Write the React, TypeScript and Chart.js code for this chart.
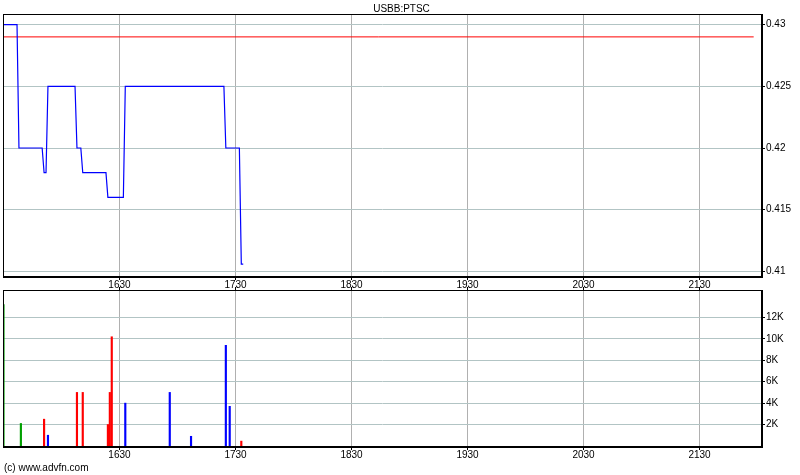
import React, { useEffect, useRef } from 'react';
import { Chart, registerables } from 'chart.js';

Chart.register(...registerables);

// ---------- data ----------
const TITLE = 'USBB:PTSC';
const COPYRIGHT = '(c) www.advfn.com';

// trade times (HHMM) and prices
const priceTimes = [1530, 1537, 1538, 1550, 1551, 1552, 1553, 1607, 1608, 1610, 1611, 1623, 1624, 1632, 1633, 1724, 1725, 1732, 1733, 1734];
const priceValues = [0.43, 0.43, 0.42, 0.42, 0.418, 0.418, 0.425, 0.425, 0.42, 0.42, 0.418, 0.418, 0.416, 0.416, 0.425, 0.425, 0.42, 0.42, 0.4106, 0.4106];

// previous close reference line
const prevClose = 0.429;

// volume bars
const volTimes = [1530, 1539, 1551, 1553, 1608, 1611, 1624, 1625, 1626, 1633, 1656, 1707, 1725, 1727, 1733];
const volValues = [13200, 2100, 2500, 1000, 5000, 5000, 2000, 5000, 10200, 4000, 5000, 900, 9400, 3700, 450];
const volDirs = ['n', 'n', 'd', 'u', 'd', 'd', 'd', 'd', 'd', 'u', 'u', 'u', 'u', 'u', 'd'];

// axis ticks
const timeTicks = [1630, 1730, 1830, 1930, 2030, 2130];
const sessionEnd = 2158;
const priceTicks = [0.41, 0.4125, 0.415, 0.4175, 0.42, 0.4225, 0.425, 0.4275, 0.43];
const priceLabelTicks = [0.41, 0.415, 0.42, 0.425, 0.43];
const volTicks = [0, 1000, 2000, 3000, 4000, 5000, 6000, 7000, 8000, 9000, 10000, 11000, 12000, 13000, 14000];
const volLabelTicks = [2000, 4000, 6000, 8000, 10000, 12000];

// ---------- helpers / styles ----------
const toMin = (t: number) => Math.floor(t / 100) * 60 + (t % 100);
const X_MIN = 929.75;
const X_MAX = 1322.3;
const P_MIN = 0.409553;
const P_MAX = 0.430854;
const V_MIN = -100;
const V_MAX = 14570;

const FONT = { family: '"Liberation Sans", Arial, sans-serif', size: 10 };
const H_GRID = 'rgb(178,196,196)';
const V_GRID = 'rgb(176,176,176)';
const dirColor: Record<string, string> = { n: '#00a000', d: '#ff0000', u: '#0000ff' };

const framePlugin = {
  id: 'frame',
  afterDraw(chart: any) {
    const { ctx, chartArea: a } = chart;
    ctx.save();
    ctx.strokeStyle = '#000';
    ctx.lineWidth = 1;
    ctx.strokeRect(Math.round(a.left) + 0.5, Math.round(a.top) + 0.5, Math.round(a.right - a.left) - 1, Math.round(a.bottom - a.top) - 1);
    ctx.restore();
  },
};

const near = (a: number, b: number) => Math.abs(a - b) < 1e-7;

function timeAxis(position: 'top' | 'bottom', showLabels: boolean, height: number, pad: number, onArea: boolean) {
  const tickMins = [...timeTicks.map(toMin), toMin(sessionEnd)];
  return {
    type: 'linear',
    position,
    min: X_MIN,
    max: X_MAX,
    offset: false,
    afterBuildTicks: (s: any) => {
      s.ticks = [{ value: X_MIN }, ...tickMins.map((v) => ({ value: v })), { value: X_MAX }];
    },
    afterFit: (s: any) => {
      s.height = height;
    },
    ticks: {
      display: showLabels,
      autoSkip: false,
      maxRotation: 0,
      padding: pad,
      font: FONT,
      color: '#000',
      callback: (v: number) => {
        const t = timeTicks.find((tt) => toMin(tt) === v);
        return t !== undefined ? String(t) : null;
      },
    },
    grid: {
      offset: false,
      drawOnChartArea: onArea,
      color: (c: any) => (c.tick && (c.tick.value === X_MIN || c.tick.value === X_MAX) ? 'rgba(0,0,0,0)' : V_GRID),
      tickColor: (c: any) => (c.tick && (c.tick.value === X_MIN || c.tick.value === X_MAX) ? 'rgba(0,0,0,0)' : '#000'),
      tickLength: 3,
    },
    border: { color: '#000', width: 1 },
  };
}

function PriceChart() {
  const ref = useRef<HTMLCanvasElement>(null);
  useEffect(() => {
    if (!ref.current) return;
    const chart = new Chart(ref.current, {
      type: 'line',
      data: {
        datasets: [
          {
            data: priceTimes.map((t, i) => ({ x: toMin(t), y: priceValues[i] })),
            borderColor: '#0000ff',
            borderWidth: 1.2,
            pointRadius: 0,
            tension: 0,
          },
          {
            data: [
              { x: toMin(priceTimes[0]), y: prevClose },
              { x: toMin(sessionEnd), y: prevClose },
            ],
            borderColor: '#ff0000',
            borderWidth: 1,
            pointRadius: 0,
          },
        ],
      },
      options: {
        animation: false,
        responsive: false,
        events: [],
        layout: { padding: { left: 3, right: 0, top: 0, bottom: 0 } },
        plugins: {
          legend: { display: false },
          tooltip: { enabled: false },
          title: {
            display: true,
            text: TITLE,
            color: '#000',
            font: { ...FONT, size: 10, weight: 'normal' },
            padding: { top: 3, bottom: -1 },
          },
        },
        scales: {
          x: timeAxis('bottom', false, 4, 0, true) as any,
          y: {
            type: 'linear',
            position: 'right',
            min: P_MIN,
            max: P_MAX,
            afterBuildTicks: (s: any) => {
              s.ticks = [{ value: P_MIN }, ...priceTicks.map((v) => ({ value: v })), { value: P_MAX }];
            },
            afterFit: (s: any) => {
              s.width = 38;
            },
            ticks: {
              autoSkip: false,
              padding: 1,
              font: FONT,
              color: '#000',
              callback: (v: number) => (priceLabelTicks.some((p) => near(p, v)) ? String(v) : null),
            },
            grid: {
              color: (c: any) => (c.tick && priceLabelTicks.some((p) => near(p, c.tick.value)) ? H_GRID : 'rgba(0,0,0,0)'),
              tickColor: (c: any) => (c.tick && priceTicks.some((p) => near(p, c.tick.value)) ? '#000' : 'rgba(0,0,0,0)'),
              tickLength: 3,
            },
            border: { color: '#000', width: 1 },
          },
        },
      },
      plugins: [framePlugin],
    } as any);
    return () => chart.destroy();
  }, []);
  return <canvas ref={ref} width={800} height={284} style={{ position: 'absolute', left: 0, top: 0 }} />;
}

function VolumeChart() {
  const ref = useRef<HTMLCanvasElement>(null);
  useEffect(() => {
    if (!ref.current) return;
    const chart = new Chart(ref.current, {
      type: 'bar',
      data: {
        datasets: [
          {
            data: volTimes.map((t, i) => ({ x: toMin(t), y: volValues[i] })),
            backgroundColor: volDirs.map((d) => dirColor[d]),
            borderWidth: 0,
            barThickness: 1.5,
            xAxisID: 'x',
            yAxisID: 'y',
          },
        ],
      },
      options: {
        animation: false,
        responsive: false,
        events: [],
        layout: { padding: { left: 3, right: 0, top: 0, bottom: 0 } },
        plugins: { legend: { display: false }, tooltip: { enabled: false }, title: { display: false } },
        scales: {
          x: timeAxis('bottom', true, 28, -1, true) as any,
          x2: timeAxis('top', true, 14, -4, false) as any,
          y: {
            type: 'linear',
            position: 'right',
            min: V_MIN,
            max: V_MAX,
            afterBuildTicks: (s: any) => {
              s.ticks = [{ value: V_MIN }, ...volTicks.map((v) => ({ value: v })), { value: V_MAX }];
            },
            afterFit: (s: any) => {
              s.width = 38;
            },
            ticks: {
              autoSkip: false,
              padding: 1,
              font: FONT,
              color: '#000',
              callback: (v: number) => (volLabelTicks.includes(v) ? `${v / 1000}K` : null),
            },
            grid: {
              color: (c: any) => (c.tick && c.tick.value > 0 && c.tick.value % 2000 === 0 ? H_GRID : 'rgba(0,0,0,0)'),
              tickColor: (c: any) => (c.tick && volTicks.includes(c.tick.value) && c.tick.value > 0 ? '#000' : 'rgba(0,0,0,0)'),
              tickLength: 3,
            },
            border: { color: '#000', width: 1 },
          },
        },
      },
      plugins: [framePlugin],
    } as any);
    return () => chart.destroy();
  }, []);
  return <canvas ref={ref} width={800} height={199} style={{ position: 'absolute', left: 0, top: 276 }} />;
}

export default function App() {
  return (
    <div style={{ position: 'absolute', left: 0, top: 0, width: 800, height: 475, background: '#fff', overflow: 'hidden' }}>
      <PriceChart />
      <VolumeChart />
      <div
        style={{
          position: 'absolute',
          left: 4,
          top: 462,
          fontFamily: '"Liberation Sans", Arial, sans-serif',
          fontSize: 10,
          lineHeight: '12px',
          color: '#000',
        }}
      >
        {COPYRIGHT}
      </div>
    </div>
  );
}
